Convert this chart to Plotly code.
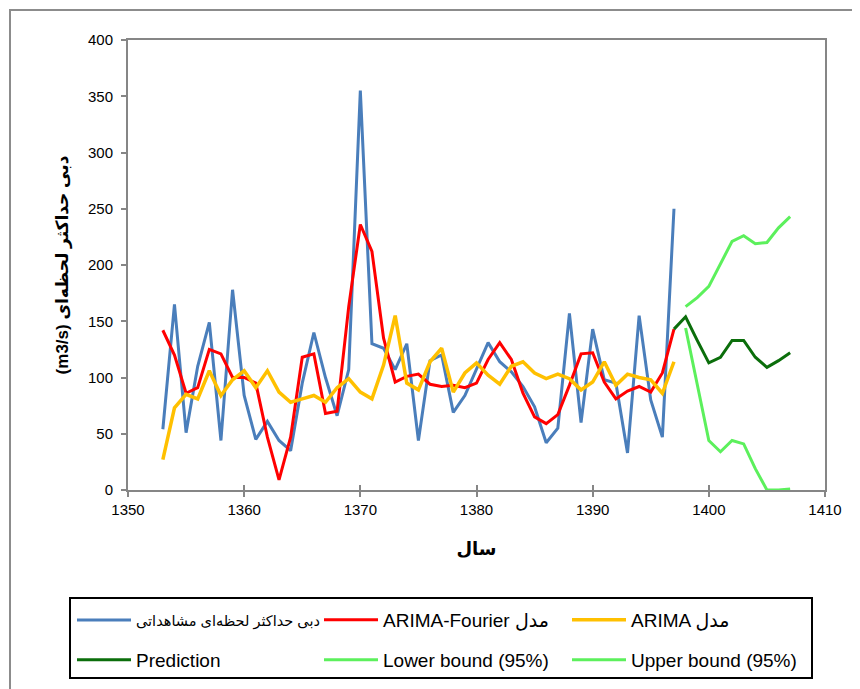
import plotly.graph_objects as go

years_obs = list(range(1353, 1398))
observed = [54, 165, 51, 110, 149, 44, 178, 84, 45, 61, 44, 35, 95, 140, 100, 66, 107, 355, 130,
            126, 107, 130, 44, 115, 120, 69, 84, 108, 131, 114, 105, 92, 74, 42, 55, 157, 60, 143,
            98, 95, 33, 155, 80, 47, 250]
arima_fourier = [142, 120, 86, 91, 125, 121, 100, 100, 95, 47, 9, 47, 118, 121, 68, 70, 163, 236, 212,
                 135, 96, 101, 103, 94, 92, 93, 91, 95, 116, 131, 116, 86, 65, 59, 67, 93, 121, 122,
                 96, 81, 88, 92, 87, 104, 143]
arima = [27, 73, 85, 81, 106, 84, 98, 106, 91, 106, 87, 78, 81, 84, 78, 91, 99, 87, 81,
         111, 155, 95, 89, 114, 126, 87, 104, 113, 102, 94, 110, 114, 104, 99, 103, 99, 89, 96,
         114, 93, 103, 100, 98, 86, 114]

years_pred = list(range(1397, 1408))
prediction = [143, 154, 133, 113, 118, 133, 133, 118, 109, 115, 122]
years_bound = list(range(1398, 1408))
lower_bound = [144, 94, 44, 34, 44, 41, 19, 0, 0, 1]
upper_bound = [163, 171, 181, 201, 221, 226, 219, 220, 233, 243]

names = ["دبی حداکثر لحظه\u200cای مشاهداتی", "ARIMA-Fourier مدل", "ARIMA مدل",
         "Prediction", "Lower bound (95%)", "Upper bound (95%)"]

FONT = "Liberation Sans, Arial, DejaVu Sans, sans-serif"

# page body has an 8px margin: plot area sits at screen x 128..825, y 40..490
OFF = 8
PL, PT, PW, PH = 128 - OFF, 40 - OFF, 697, 450

fig = go.Figure()
series = [
    (years_obs, observed, "#4A7EBB", 3, "legend"),
    (years_obs, arima_fourier, "#FF0000", 3, "legend2"),
    (years_obs, arima, "#FFC000", 3.5, "legend3"),
    (years_pred, prediction, "#0B6E0B", 3, "legend4"),
    (years_bound, lower_bound, "#5CF05C", 3, "legend5"),
    (years_bound, upper_bound, "#5CF05C", 3, "legend6"),
]
for (xs, ys, col, w, lg), nm in zip(series, names):
    fig.add_trace(go.Scatter(x=xs, y=ys, mode="lines", name=nm,
                             line=dict(color=col, width=w), legend=lg))

def px2x(px):
    return (px - 128) / PW

def py2y(py):
    return (490 - py) / PH

col_x = [72, 319, 567]
row_y = [620, 660]
lay_legends = {}
for i in range(6):
    key = "legend" if i == 0 else f"legend{i+1}"
    size = 14.5 if i == 0 else 19
    lay_legends[key] = dict(x=px2x(col_x[i % 3]), y=py2y(row_y[i // 3]),
                            font=dict(family=FONT, size=size, color="#000"),
                            bgcolor="rgba(0,0,0,0)", borderwidth=0,
                            xanchor="left", yanchor="middle", itemwidth=54)

axis_col = "#868686"
fig.update_layout(
    width=860, height=689,
    margin=dict(l=PL, r=860 - PL - PW, t=PT, b=689 - PT - PH),
    paper_bgcolor="white", plot_bgcolor="white",
    showlegend=True,
    font=dict(family=FONT, size=15, color="#000"),
    xaxis=dict(range=[1350, 1410], dtick=10, tick0=1350, showgrid=False, zeroline=False,
               showline=True, linecolor=axis_col, linewidth=2, mirror=True,
               ticks="outside", ticklen=5, tickcolor=axis_col, tickwidth=1.5,
               tickfont=dict(size=15),
               title=dict(text="<b>سال</b>", font=dict(size=18), standoff=25)),
    xaxis2=dict(range=[1350, 1410], dtick=10, tick0=1350, overlaying="x", showgrid=False,
                zeroline=False, showline=False, ticks="inside", ticklen=5, tickcolor=axis_col,
                tickwidth=1.5, showticklabels=False, side="bottom", anchor="y"),
    yaxis=dict(range=[0, 400], dtick=50, showgrid=False, zeroline=False,
               showline=True, linecolor=axis_col, linewidth=2, mirror=True,
               ticks="outside", ticklen=5, tickcolor=axis_col, tickwidth=1.5,
               tickfont=dict(size=15), ticklabelstandoff=5,
               title=dict(text="<b>(m3/s) دبی حداکثر لحظه\u200cای</b>", font=dict(size=17), standoff=15)),
    shapes=[
        dict(type="rect", xref="paper", yref="paper", x0=px2x(70), x1=px2x(812),
             y0=py2y(678), y1=py2y(598), line=dict(color="black", width=2)),
        dict(type="rect", xref="paper", yref="paper", x0=px2x(10), x1=px2x(900),
             y0=py2y(720), y1=py2y(10), line=dict(color="#8C8C8C", width=2), layer="below"),
    ],
    **lay_legends,
)
# invisible trace to activate the crossing tick axis
fig.add_trace(go.Scatter(x=[1350], y=[0], xaxis="x2", mode="markers", marker=dict(opacity=0),
                         showlegend=False, hoverinfo="skip"))

fig.write_html("out.html")
